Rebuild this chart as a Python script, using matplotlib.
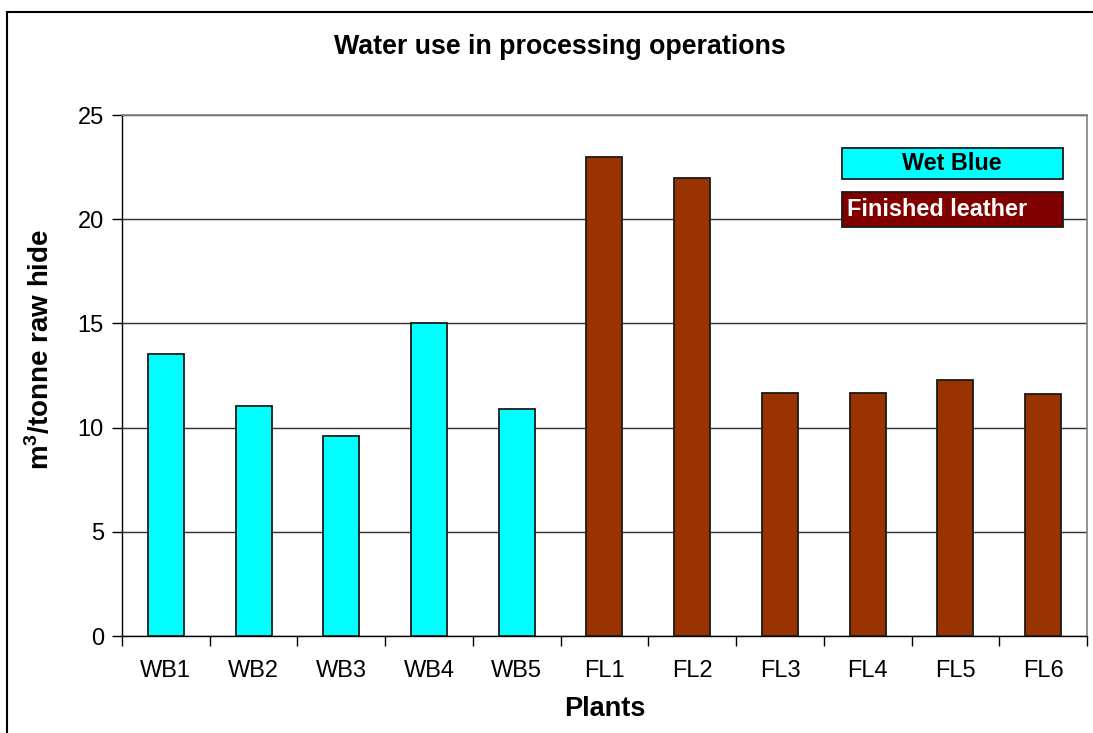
import matplotlib
matplotlib.use("Agg")
import matplotlib.pyplot as plt
from matplotlib.patches import Rectangle
import numpy as np

plt.rcParams['font.family'] = ['Liberation Sans', 'DejaVu Sans']
plt.rcParams['mathtext.fontset'] = 'custom'
plt.rcParams['mathtext.rm'] = 'Liberation Sans:bold'
plt.rcParams['mathtext.bf'] = 'Liberation Sans:bold'

plants = ['WB1', 'WB2', 'WB3', 'WB4', 'WB5', 'FL1', 'FL2', 'FL3', 'FL4', 'FL5', 'FL6']
water_use = [13.55, 11.05, 9.6, 15.0, 10.9, 23.0, 22.0, 11.65, 11.65, 12.3, 11.6]
groups = ['WB', 'WB', 'WB', 'WB', 'WB', 'FL', 'FL', 'FL', 'FL', 'FL', 'FL']
colours = {'WB': '#00FFFF', 'FL': '#993300'}

fig = plt.figure(figsize=(10.93, 7.33), dpi=100)
ax = fig.add_axes([0.1116, 0.1323, 0.8829, 0.7108])

x = np.arange(len(plants))
ax.bar(x, water_use, width=0.41, color=[colours[g] for g in groups],
       edgecolor='#1a1a1a', linewidth=1.3, zorder=3)

ax.set_xlim(-0.5, len(plants) - 0.5)
ax.set_ylim(0, 25)
ax.set_yticks([0, 5, 10, 15, 20, 25])
ax.yaxis.grid(True, color='#303030', linewidth=1.0, zorder=0)
ax.set_axisbelow(True)

ax.set_xticks(x)
ax.set_xticklabels(plants, fontsize=17)
ax.set_xticks(np.arange(-0.5, len(plants)), minor=True)
ax.tick_params(axis='x', which='major', length=0, pad=17)
ax.tick_params(axis='x', which='minor', length=7, width=1, direction='out')
ax.tick_params(axis='y', length=7, width=1, direction='out', labelsize=17, pad=6)

for side in ['top', 'right']:
    ax.spines[side].set_color('#808080')
    ax.spines[side].set_linewidth(1.2)
for side in ['left', 'bottom']:
    ax.spines[side].set_color('black')
    ax.spines[side].set_linewidth(1.0)

ax.set_xlabel('Plants', fontsize=19.5, fontweight='bold', labelpad=10)
ax.set_ylabel(r'm$^{3}$/tonne raw hide', fontsize=20, fontweight='bold')
ax.yaxis.set_label_coords(-0.069, 0.55)

fig.text(560 / 1093, 1 - 47 / 733, 'Water use in processing operations',
         fontsize=19.3, fontweight='bold', ha='center', va='center')

# legend boxes drawn as in the original chart
fig.patches.append(Rectangle((842 / 1093, 554 / 733), 221 / 1093, 31 / 733,
                             transform=fig.transFigure, facecolor='#00FFFF',
                             edgecolor='#1a1a1a', linewidth=1.3, zorder=5))
fig.text(952 / 1093, 1 - 163 / 733, 'Wet Blue', fontsize=16.8, fontweight='bold',
         ha='center', va='center', zorder=6)
fig.patches.append(Rectangle((842 / 1093, 506 / 733), 221 / 1093, 35 / 733,
                             transform=fig.transFigure, facecolor='#800000',
                             edgecolor='#1a1a1a', linewidth=1.3, zorder=5))
fig.text(847 / 1093, 1 - 209 / 733, 'Finished leather', fontsize=16.9, fontweight='bold',
         color='white', ha='left', va='center', zorder=6)

# outer chart frame
fig.patches.append(Rectangle((7 / 1093, -0.1), 1.2, 0.1 + (733 - 12) / 733,
                             transform=fig.transFigure, fill=False,
                             edgecolor='black', linewidth=1.5))

fig.savefig('out.png', dpi=100)
